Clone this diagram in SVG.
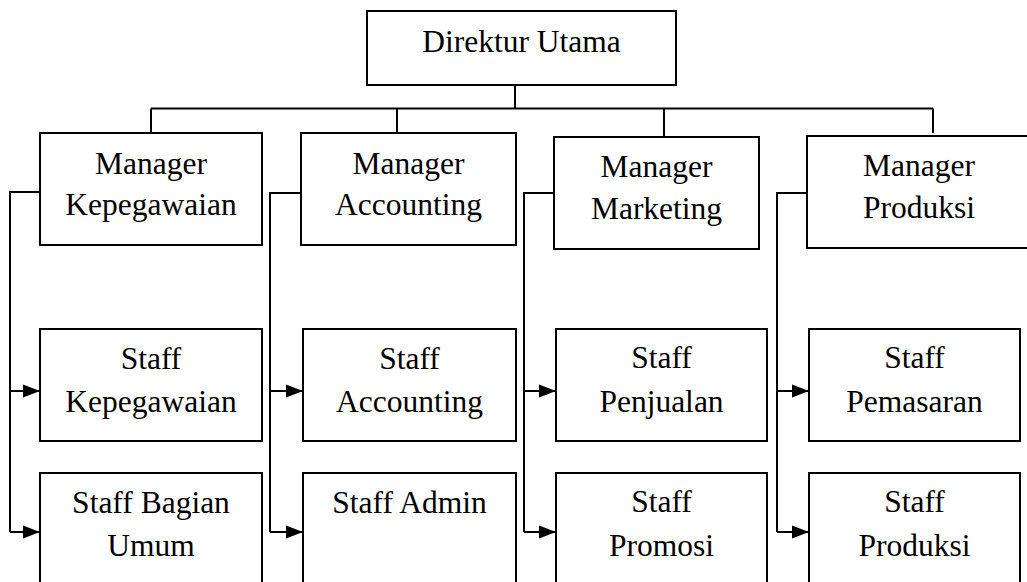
<svg xmlns="http://www.w3.org/2000/svg" width="1027" height="582" viewBox="0 0 1027 582">
<style>
.box{fill:#fff;stroke:#000;stroke-width:2}
.t{font-family:"Liberation Serif","Times New Roman",serif;font-size:31.5px;fill:#000;text-anchor:middle}
.c{fill:none;stroke:#000;stroke-width:2}
</style>
<defs>
<marker id="ah" markerUnits="userSpaceOnUse" markerWidth="17" markerHeight="14" refX="17" refY="7" orient="auto">
<path d="M0,0.5 L17,7 L0,13.5 Z" fill="#000"/>
</marker>
</defs>
<g id="connectors">
<path class="c" d="M515,85 V108.5 M151,108.5 H933 M151,108.5 V133 M397,108.5 V133 M664,108.5 V137 M933,108.5 V133"/>
<path class="c" d="M40,192 H10 V532 M301,193 H270 V532 M554,193 H524 V532 M807,193 H777 V532"/>
<path class="c" d="M10,391 H40" marker-end="url(#ah)"/>
<path class="c" d="M10,532 H40" marker-end="url(#ah)"/>
<path class="c" d="M270,391 H303" marker-end="url(#ah)"/>
<path class="c" d="M270,532 H303" marker-end="url(#ah)"/>
<path class="c" d="M524,391 H556" marker-end="url(#ah)"/>
<path class="c" d="M524,532 H556" marker-end="url(#ah)"/>
<path class="c" d="M777,391 H809" marker-end="url(#ah)"/>
<path class="c" d="M777,532 H809" marker-end="url(#ah)"/>
</g>
<g id="direktur"><rect class="box" x="367" y="11" width="309" height="74"/><text class="t" x="521.5" y="52">Direktur Utama</text></g>
<g id="mgr-kepegawaian"><rect class="box" x="40" y="133" width="222" height="112"/><text class="t" x="151" y="174">Manager</text><text class="t" x="151" y="215">Kepegawaian</text></g>
<g id="mgr-accounting"><rect class="box" x="301" y="133" width="215" height="112"/><text class="t" x="408.5" y="174">Manager</text><text class="t" x="408.5" y="215">Accounting</text></g>
<g id="mgr-marketing"><rect class="box" x="554" y="137" width="205" height="112"/><text class="t" x="656.5" y="177">Manager</text><text class="t" x="656.5" y="219">Marketing</text></g>
<g id="mgr-produksi"><rect class="box" x="807" y="136" width="224" height="112"/><text class="t" x="919" y="176">Manager</text><text class="t" x="919" y="218">Produksi</text></g>
<g id="staff-kepegawaian"><rect class="box" x="40" y="329" width="222" height="112"/><text class="t" x="151" y="369">Staff</text><text class="t" x="151" y="412">Kepegawaian</text></g>
<g id="staff-accounting"><rect class="box" x="303" y="329" width="213" height="112"/><text class="t" x="409.5" y="369">Staff</text><text class="t" x="409.5" y="412">Accounting</text></g>
<g id="staff-penjualan"><rect class="box" x="556" y="329" width="211" height="112"/><text class="t" x="661.5" y="368">Staff</text><text class="t" x="661.5" y="412">Penjualan</text></g>
<g id="staff-pemasaran"><rect class="box" x="809" y="329" width="211" height="112"/><text class="t" x="914.5" y="368">Staff</text><text class="t" x="914.5" y="412">Pemasaran</text></g>
<g id="staff-bagian-umum"><rect class="box" x="40" y="473" width="222" height="130"/><text class="t" x="151" y="513">Staff Bagian</text><text class="t" x="151" y="556">Umum</text></g>
<g id="staff-admin"><rect class="box" x="303" y="473" width="213" height="130"/><text class="t" x="409.5" y="513">Staff Admin</text></g>
<g id="staff-promosi"><rect class="box" x="556" y="473" width="211" height="130"/><text class="t" x="661.5" y="512">Staff</text><text class="t" x="661.5" y="556">Promosi</text></g>
<g id="staff-produksi"><rect class="box" x="809" y="473" width="211" height="130"/><text class="t" x="914.5" y="512">Staff</text><text class="t" x="914.5" y="556">Produksi</text></g>
</svg>
